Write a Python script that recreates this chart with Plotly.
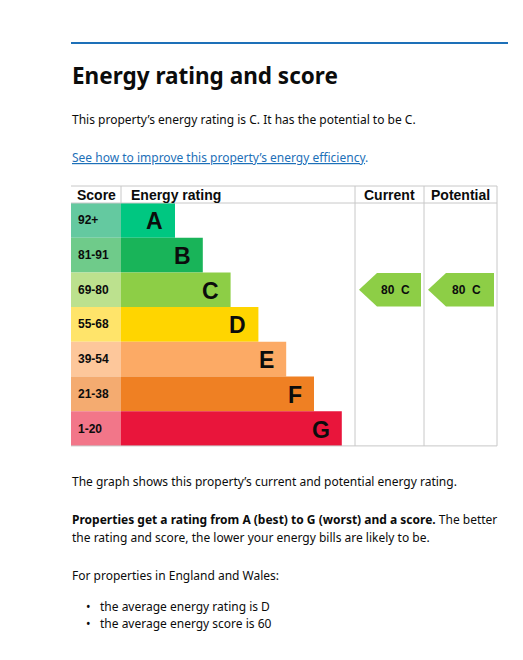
import plotly.graph_objects as go

ratings = ['A', 'B', 'C', 'D', 'E', 'F', 'G']
score_bands = ['92+', '81-91', '69-80', '55-68', '39-54', '21-38', '1-20']
band_colors = ['#00c781', '#19b459', '#8dce46', '#ffd500', '#fcaa65', '#ef8023', '#e9153b']
score_colors = ['#64c9a0', '#6fcb8a', '#bce18e', '#ffe46a', '#fdc79b', '#f4ab70', '#f27689']
current_score, current_rating = 80, 'C'
potential_score, potential_rating = 80, 'C'

W, H = 523, 660
off = 8  # page body margin
row_h = 34.7
top = 203
x0, score_w, bar0 = 71, 50, 121
cur_l, pot_l, right = 355, 424, 497
bottom = top + row_h * len(ratings)
centers = [top + row_h * (i + 0.5) for i in range(len(ratings))]
lengths = [54 + 27.8 * i for i in range(len(ratings))]

fig = go.Figure()
fig.add_trace(go.Bar(y=centers, x=[score_w] * 7, base=x0, orientation='h', width=row_h,
                     marker=dict(color=score_colors, line_width=0), hoverinfo='skip'))
fig.add_trace(go.Bar(y=centers, x=lengths, base=bar0, orientation='h', width=row_h,
                     marker=dict(color=band_colors, line_width=0), hoverinfo='skip'))

for i, (r, s) in enumerate(zip(ratings, score_bands)):
    fig.add_annotation(x=x0 + 5, y=centers[i], text=f'<b>{s}</b>', showarrow=False, xanchor='left',
                       font=dict(family='Liberation Sans, Arial', size=12, color='#0b0c0c'))
    fig.add_annotation(x=bar0 + lengths[i] - 10, y=centers[i] + 1, text=f'<b>{r}</b>', showarrow=False,
                       xanchor='right', font=dict(family='Liberation Sans, Arial', size=23, color='#0b0c0c'))

def arrow(left, rightx, score, rating):
    i = ratings.index(rating)
    c = centers[i]
    h = row_h / 2 - 0.5
    fig.add_trace(go.Scatter(x=[left + 4, left + 22, rightx - 3, rightx - 3, left + 22, left + 4],
                             y=[c, c - h, c - h, c + h, c + h, c], fill='toself', mode='lines',
                             line=dict(width=0), fillcolor=band_colors[i], hoverinfo='skip'))
    fig.add_annotation(x=(left + rightx) / 2 + 6, y=c, text=f'<b>{score}  {rating}</b>', showarrow=False,
                       font=dict(family='Liberation Sans, Arial', size=12, color='#0b0c0c'))

arrow(cur_l, pot_l, current_score, current_rating)
arrow(pot_l, right, potential_score, potential_rating)

grey = '#c8c8c8'
shapes = [
    dict(type='line', x0=71, x1=508, y0=43, y1=43, line=dict(color='#1d70b8', width=2)),
    dict(type='line', x0=x0, x1=right, y0=186, y1=186, line=dict(color=grey, width=1)),
    dict(type='line', x0=x0, x1=right, y0=top, y1=top, line=dict(color=grey, width=1)),
    dict(type='line', x0=x0, x1=right, y0=bottom, y1=bottom, line=dict(color=grey, width=1)),
    dict(type='line', x0=bar0, x1=bar0, y0=186, y1=top, line=dict(color=grey, width=1)),
]
for xv in [cur_l, pot_l, right]:
    shapes.append(dict(type='line', x0=xv, x1=xv, y0=186, y1=bottom, line=dict(color=grey, width=1)))

hdr = dict(family='Liberation Sans, Arial', size=14, color='#0b0c0c')
for x, t, a in [(x0 + 4, 'Score', 'left'), (bar0 + 8, 'Energy rating', 'left'),
                ((cur_l + pot_l) / 2, 'Current', 'center'), ((pot_l + right) / 2, 'Potential', 'center')]:
    fig.add_annotation(x=x, y=195, text=f'<b>{t}</b>', showarrow=False, xanchor=a, font=hdr)

body = dict(family='Noto Sans', size=12, color='#0b0c0c')
texts = [
    (75, '<b>Energy rating and score</b>', dict(family='Noto Sans', size=22.5, color='#0b0c0c')),
    (119, "This property’s energy rating is C. It has the potential to be C.", body),
    (157, "<u>See how to improve this property’s energy efficiency</u>.", dict(body, color='#1d70b8')),
    (481, "The graph shows this property’s current and potential energy rating.", body),
    (519, "<b>Properties get a rating from A (best) to G (worst) and a score.</b> The better", body),
    (537, "the rating and score, the lower your energy bills are likely to be.", body),
    (575, "For properties in England and Wales:", body),
]
for y, t, f in texts:
    fig.add_annotation(x=70, y=y, text=t, showarrow=False, xanchor='left', font=f)
for y, t in [(606, 'the average energy rating is D'), (623, 'the average energy score is 60')]:
    fig.add_annotation(x=84, y=y, text='•', showarrow=False, xanchor='left', font=body)
    fig.add_annotation(x=98, y=y, text=t, showarrow=False, xanchor='left', font=body)

fig.update_layout(width=W, height=H, margin=dict(l=0, r=0, t=0, b=0), showlegend=False,
                  plot_bgcolor='white', paper_bgcolor='white', shapes=shapes, barmode='overlay',
                  xaxis=dict(range=[off, W + off], visible=False, fixedrange=True),
                  yaxis=dict(range=[H + off, off], visible=False, fixedrange=True))
fig.write_html('out.html', config={'displayModeBar': False})
